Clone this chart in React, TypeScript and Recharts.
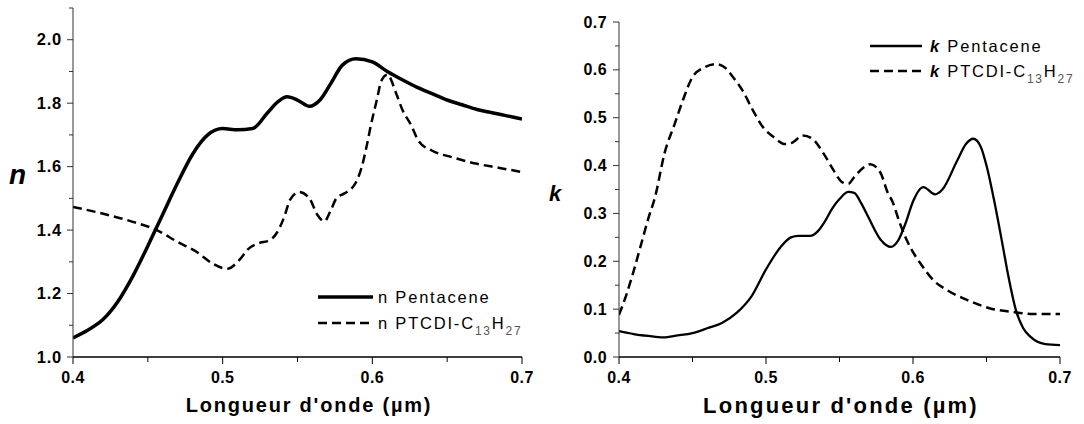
import React from 'react';
import { LineChart, Line, XAxis, YAxis } from 'recharts';

// ---------- data (wavelength in µm) ----------
const nPentaceneWl = [0.40, 0.41, 0.42, 0.43, 0.44, 0.45, 0.46, 0.47, 0.48, 0.49, 0.50, 0.51, 0.52, 0.53, 0.537, 0.543, 0.55, 0.558, 0.565, 0.572, 0.58, 0.589, 0.60, 0.61, 0.62, 0.63, 0.64, 0.65, 0.66, 0.67, 0.68, 0.69, 0.70];
const nPentaceneVal = [1.06, 1.085, 1.118, 1.175, 1.255, 1.35, 1.45, 1.55, 1.64, 1.70, 1.72, 1.716, 1.72, 1.77, 1.805, 1.82, 1.81, 1.79, 1.81, 1.86, 1.92, 1.94, 1.93, 1.90, 1.874, 1.85, 1.83, 1.81, 1.795, 1.78, 1.77, 1.76, 1.75];

const nPtcdiWl = [0.40, 0.418, 0.44, 0.456, 0.469, 0.483, 0.493, 0.503, 0.511, 0.517, 0.525, 0.53, 0.536, 0.541, 0.545, 0.551, 0.558, 0.563, 0.568, 0.572, 0.576, 0.581, 0.586, 0.589, 0.593, 0.596, 0.599, 0.603, 0.606, 0.61, 0.616, 0.62, 0.626, 0.631, 0.64, 0.653, 0.669, 0.685, 0.70];
const nPtcdiVal = [1.473, 1.454, 1.426, 1.40, 1.365, 1.33, 1.295, 1.278, 1.305, 1.34, 1.36, 1.365, 1.39, 1.44, 1.495, 1.52, 1.50, 1.45, 1.428, 1.46, 1.50, 1.515, 1.53, 1.55, 1.60, 1.66, 1.73, 1.81, 1.87, 1.89, 1.83, 1.78, 1.73, 1.68, 1.65, 1.63, 1.61, 1.596, 1.583];

const kPentaceneWl = [0.40, 0.41, 0.42, 0.43, 0.44, 0.45, 0.46, 0.47, 0.48, 0.49, 0.50, 0.51, 0.517, 0.522, 0.53, 0.535, 0.54, 0.545, 0.55, 0.556, 0.56, 0.565, 0.57, 0.578, 0.585, 0.59, 0.595, 0.60, 0.607, 0.615, 0.62, 0.63, 0.636, 0.641, 0.646, 0.65, 0.655, 0.66, 0.665, 0.67, 0.675, 0.68, 0.69, 0.70];
const kPentaceneVal = [0.054, 0.048, 0.044, 0.041, 0.045, 0.05, 0.06, 0.071, 0.092, 0.126, 0.183, 0.23, 0.25, 0.253, 0.253, 0.262, 0.283, 0.31, 0.33, 0.345, 0.343, 0.32, 0.29, 0.245, 0.23, 0.244, 0.28, 0.325, 0.355, 0.34, 0.35, 0.41, 0.445, 0.456, 0.44, 0.40, 0.33, 0.25, 0.167, 0.098, 0.06, 0.042, 0.027, 0.025];

const kPtcdiWl = [0.40, 0.405, 0.41, 0.415, 0.42, 0.4245, 0.431, 0.438, 0.4435, 0.45, 0.458, 0.466, 0.472, 0.4775, 0.484, 0.491, 0.498, 0.505, 0.513, 0.518, 0.525, 0.532, 0.539, 0.546, 0.552, 0.556, 0.56, 0.566, 0.571, 0.578, 0.583, 0.586, 0.591, 0.598, 0.605, 0.614, 0.623, 0.637, 0.652, 0.668, 0.682, 0.70];
const kPtcdiVal = [0.088, 0.13, 0.18, 0.235, 0.29, 0.334, 0.426, 0.488, 0.537, 0.585, 0.605, 0.612, 0.605, 0.585, 0.557, 0.516, 0.48, 0.46, 0.445, 0.448, 0.463, 0.455, 0.426, 0.39, 0.365, 0.362, 0.376, 0.395, 0.403, 0.384, 0.342, 0.325, 0.28, 0.23, 0.196, 0.16, 0.14, 0.119, 0.102, 0.094, 0.09, 0.09];

// ---------- ticks ----------
const xTicks = [0.4, 0.45, 0.5, 0.55, 0.6, 0.65, 0.7];
const xMajorTicks = [0.4, 0.5, 0.6, 0.7];
const nTicks = [1.0, 1.1, 1.2, 1.3, 1.4, 1.5, 1.6, 1.7, 1.8, 1.9, 2.0, 2.1];
const nMajorTicks = [1.0, 1.2, 1.4, 1.6, 1.8, 2.0];
const kTicks = [0, 0.05, 0.1, 0.15, 0.2, 0.25, 0.3, 0.35, 0.4, 0.45, 0.5, 0.55, 0.6, 0.65, 0.7];
const kMajorTicks = [0, 0.1, 0.2, 0.3, 0.4, 0.5, 0.6, 0.7];

const toPoints = (wl: number[], val: number[]) => wl.map((x, i) => ({ x, y: val[i] }));

const FONT = "Arial, 'Liberation Sans', sans-serif";
const isIn = (arr: number[], v: number) => arr.some((m) => Math.abs(m - v) < 1e-6);

const makeXTick = (majors: number[], fontSize: number, spacing: number) => (props: any) => {
  const { x, y, payload } = props;
  const major = isIn(majors, payload.value);
  return (
    <g>
      <line x1={x} x2={x} y1={y} y2={y + (major ? 7 : 5)} stroke="#000" strokeWidth={1} />
      {major && (
        <text x={x} y={y + 26} textAnchor="middle" fontSize={fontSize} fontWeight="bold" fontFamily={FONT} letterSpacing={spacing} fill="#000">
          {Number(payload.value).toFixed(1)}
        </text>
      )}
    </g>
  );
};

const makeYTick = (majors: number[], fontSize: number, spacing: number, gap: number) => (props: any) => {
  const { x, y, payload } = props;
  const major = isIn(majors, payload.value);
  return (
    <g>
      <line x1={x} x2={x - (major ? 6 : 4)} y1={y} y2={y} stroke="#333" strokeWidth={1} />
      {major && (
        <text x={x - gap} y={y + 5.5} textAnchor="end" fontSize={fontSize} fontWeight="bold" fontFamily={FONT} letterSpacing={spacing} fill="#000">
          {Number(payload.value).toFixed(1)}
        </text>
      )}
    </g>
  );
};

export default function App() {
  return (
    <div style={{ position: 'absolute', left: 0, top: 0, width: 1084, height: 424, background: '#fff', overflow: 'hidden' }}>
      <div style={{ position: 'absolute', left: 0, top: 0 }}>
        <LineChart width={540} height={424} margin={{ top: 8, right: 18, bottom: 37, left: 0 }}>
          <XAxis type="number" dataKey="x" domain={[0.4, 0.7]} ticks={xTicks} interval={0} height={30}
            axisLine={{ stroke: '#000', strokeWidth: 1.5 }} tickLine={false} tickSize={0} tickMargin={0}
            tick={makeXTick(xMajorTicks, 16, 0.4)} allowDataOverflow />
          <YAxis type="number" domain={[1.0, 2.1]} ticks={nTicks} interval={0} width={73}
            axisLine={{ stroke: '#333', strokeWidth: 1 }} tickLine={false} tickSize={0} tickMargin={0}
            tick={makeYTick(nMajorTicks, 16.5, 0.8, 11)} allowDataOverflow />
          <Line data={toPoints(nPentaceneWl, nPentaceneVal)} dataKey="y" type="monotone" stroke="#000" strokeWidth={3.5} dot={false} isAnimationActive={false} />
          <Line data={toPoints(nPtcdiWl, nPtcdiVal)} dataKey="y" type="monotone" stroke="#000" strokeWidth={2.5} strokeDasharray="9 5" dot={false} isAnimationActive={false} />
        </LineChart>
      </div>
      <div style={{ position: 'absolute', left: 540, top: 0 }}>
        <LineChart width={544} height={424} margin={{ top: 22, right: 24, bottom: 37, left: 0 }}>
          <XAxis type="number" dataKey="x" domain={[0.4, 0.7]} ticks={xTicks} interval={0} height={30}
            axisLine={{ stroke: '#000', strokeWidth: 1.5 }} tickLine={false} tickSize={0} tickMargin={0}
            tick={makeXTick(xMajorTicks, 16, 0.4)} allowDataOverflow />
          <YAxis type="number" domain={[0, 0.7]} ticks={kTicks} interval={0} width={79}
            axisLine={{ stroke: '#333', strokeWidth: 1 }} tickLine={false} tickSize={0} tickMargin={0}
            tick={makeYTick(kMajorTicks, 16, 0.4, 12)} allowDataOverflow />
          <Line data={toPoints(kPentaceneWl, kPentaceneVal)} dataKey="y" type="monotone" stroke="#000" strokeWidth={2.3} dot={false} isAnimationActive={false} />
          <Line data={toPoints(kPtcdiWl, kPtcdiVal)} dataKey="y" type="monotone" stroke="#000" strokeWidth={2.5} strokeDasharray="9 5" dot={false} isAnimationActive={false} />
        </LineChart>
      </div>
      <svg width={1084} height={424} style={{ position: 'absolute', left: 0, top: 0, pointerEvents: 'none' }} fontFamily={FONT}>
        {/* axis symbols */}
        <text x={9} y={184} fontSize={28} fontWeight="bold" fontStyle="italic" fill="#000">n</text>
        <text x={549} y={201} fontSize={22} fontWeight="bold" fontStyle="italic" fill="#000">k</text>
        {/* axis titles */}
        <text x={309} y={412} textAnchor="middle" fontSize={20} fontWeight="bold" letterSpacing={1.8} fill="#000">Longueur d'onde (µm)</text>
        <text x={841} y={413} textAnchor="middle" fontSize={22} fontWeight="bold" letterSpacing={2.2} fill="#000">Longueur d'onde (µm)</text>
        {/* left legend */}
        <line x1={318} x2={373} y1={297} y2={297} stroke="#000" strokeWidth={3.5} />
        <text x={378} y={303} fontSize={16.5} letterSpacing={1.8} fill="#000">n Pentacene</text>
        <line x1={318} x2={373} y1={323} y2={323} stroke="#000" strokeWidth={2.5} strokeDasharray="9 5" />
        <text x={378} y={329} fontSize={16.5} letterSpacing={1.8} fill="#000">
          n PTCDI-C<tspan fontSize={12} dy={6} fill="#555">13</tspan><tspan dy={-6} fontSize={16.5}>H</tspan><tspan fontSize={12} dy={6} fill="#555">27</tspan>
        </text>
        {/* right legend */}
        <line x1={870} x2={922} y1={46} y2={46} stroke="#000" strokeWidth={2.3} />
        <text x={930} y={52} fontSize={16.5} letterSpacing={1.8} fill="#000"><tspan fontWeight="bold" fontStyle="italic">k</tspan> Pentacene</text>
        <line x1={870} x2={922} y1={71} y2={71} stroke="#000" strokeWidth={2.5} strokeDasharray="9 5" />
        <text x={930} y={77} fontSize={16.5} letterSpacing={1.8} fill="#000">
          <tspan fontWeight="bold" fontStyle="italic">k</tspan> PTCDI-C<tspan fontSize={12} dy={6} fill="#555">13</tspan><tspan dy={-6} fontSize={16.5}>H</tspan><tspan fontSize={12} dy={6} fill="#555">27</tspan>
        </text>
      </svg>
    </div>
  );
}
